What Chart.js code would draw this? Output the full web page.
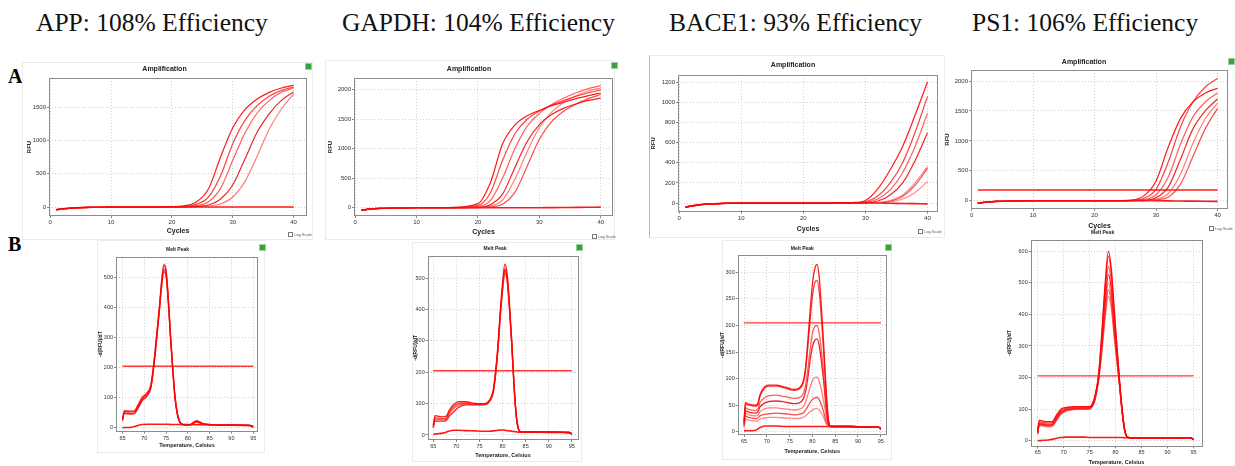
<!DOCTYPE html>
<html><head><meta charset="utf-8">
<script src="https://cdn.jsdelivr.net/npm/chart.js@4.4.1/dist/chart.umd.min.js"></script>
<style>
html,body{margin:0;padding:0;background:#fff;}
#page{position:relative;width:1235px;height:466px;overflow:hidden;background:#fff;font-family:"Liberation Sans",Arial,sans-serif;}
.ttl{position:absolute;top:10px;font-family:"Liberation Serif",serif;font-size:25.5px;line-height:25.5px;color:#111;white-space:nowrap;}
.lbl{position:absolute;font-family:"Liberation Serif",serif;font-weight:bold;font-size:20px;line-height:20px;color:#000;}
.frame{position:absolute;border:1px solid #ebebeb;box-sizing:border-box;}
canvas{position:absolute;}
.icon{position:absolute;width:5px;height:5px;background:#3f9f3f;border:1px solid #9ad09a;}
.log{position:absolute;font-size:4px;line-height:5px;color:#555;white-space:nowrap;}
.log i{display:inline-block;width:3px;height:3px;border:1px solid #777;margin-right:1px;vertical-align:middle;}
</style></head>
<body><div id="page">
<div class="ttl" style="left:36px">APP: 108% Efficiency</div>
<div class="ttl" style="left:342px">GAPDH: 104% Efficiency</div>
<div class="ttl" style="left:669px">BACE1: 93% Efficiency</div>
<div class="ttl" style="left:972px">PS1: 106% Efficiency</div>
<div class="lbl" style="left:8px;top:66px">A</div>
<div class="lbl" style="left:8px;top:234px">B</div>
<div class="frame" style="left:22px;top:62px;width:291px;height:178px"></div>
<div class="frame" style="left:325px;top:60px;width:290px;height:180px"></div>
<div class="frame" style="left:649px;top:55px;width:296px;height:183px;border-left-color:#bbb"></div>
<div class="frame" style="left:97px;top:240px;width:168px;height:213px"></div>
<div class="frame" style="left:412px;top:242px;width:170px;height:220px"></div>
<div class="frame" style="left:722px;top:240px;width:170px;height:220px"></div>
<div class="icon" style="left:305px;top:63px"></div>
<div class="icon" style="left:611px;top:62px"></div>
<div class="icon" style="left:1228px;top:58px"></div>
<div class="icon" style="left:259px;top:244px"></div>
<div class="icon" style="left:576px;top:244px"></div>
<div class="icon" style="left:885px;top:244px"></div>
<div class="log" style="left:288px;top:232px"><i></i>Log Scale</div>
<div class="log" style="left:592px;top:234px"><i></i>Log Scale</div>
<div class="log" style="left:918px;top:229px"><i></i>Log Scale</div>
<div class="log" style="left:1209px;top:226px"><i></i>Log Scale</div>
</div>
<script>
// ---------- Amplification data ----------
const ampCycles = [1,2,4,7,10,15,20,22,24,26,28,30,32,34,36,38,40];
const ampXTicks = [0,10,20,30,40];

const appAmp1 = [-40,-28,-12,-4,0,0,4,18,75,270,750,1190,1460,1620,1720,1785,1825];
const appAmp2 = [-42,-30,-13,-4,0,0,2,10,40,150,470,950,1300,1520,1660,1750,1800];
const appAmp3 = [-38,-27,-12,-4,0,0,1,5,20,80,280,700,1110,1410,1600,1720,1785];
const appAmp4 = [-40,-28,-12,-4,0,0,0,2,10,30,120,330,720,1120,1400,1600,1725];
const appAmp5 = [-44,-30,-14,-5,0,0,0,1,5,15,45,150,380,760,1170,1470,1695];
const appAmpNtc = [-40,-28,-12,-4,0,0,0,0,0,0,0,0,0,0,0,0,0];
const appAmpYTicks = [0,500,1000,1500];

const gapdhAmp1 = [-40,-28,-12,-4,0,2,70,420,1080,1400,1560,1650,1730,1790,1850,1900,1945];
const gapdhAmp2 = [-42,-29,-12,-4,0,1,40,250,800,1250,1500,1640,1740,1820,1890,1950,2000];
const gapdhAmp3 = [-38,-27,-11,-4,0,0,20,120,500,1000,1380,1600,1750,1860,1950,2020,2070];
const gapdhAmp4 = [-40,-28,-12,-4,0,0,10,50,230,680,1120,1410,1580,1690,1760,1820,1860];
const gapdhAmp5 = [-41,-29,-12,-4,0,0,5,30,130,480,950,1360,1620,1790,1900,1980,2030];
const gapdhAmp6 = [-40,-28,-12,-4,0,0,2,15,60,260,700,1160,1460,1640,1760,1850,1920];
const gapdhAmpNtc = [-40,-28,-12,-4,0,0,0,0,0,0,0,0,2,4,6,8,10];
const gapdhAmpYTicks = [0,500,1000,1500,2000];

const baceAmp1 = [-45,-30,-14,-5,0,0,0,0,0,2,5,25,140,330,560,870,1200];
const baceAmp2 = [-42,-29,-12,-4,0,0,0,0,0,1,2,12,70,200,400,700,1055];
const baceAmp3 = [-40,-28,-12,-4,0,0,0,0,0,0,1,6,40,130,300,560,889];
const baceAmp4 = [-44,-30,-13,-4,0,0,0,0,0,0,0,3,20,80,200,420,698];
const baceAmp5 = [-40,-28,-12,-4,0,0,0,0,0,0,0,0,5,25,80,200,360];
const baceAmp6 = [-38,-27,-11,-4,0,0,0,0,0,0,0,0,3,18,65,175,344];
const baceAmp7 = [-40,-28,-12,-4,0,0,0,0,0,0,0,0,2,10,40,105,212];
const baceAmpNtc = [-40,-28,-12,-4,0,0,0,0,0,0,0,0,0,-2,-4,-6,-8];
const baceAmpYTicks = [0,200,400,600,800,1000,1200];

const ps1Amp1 = [-45,-30,-13,-4,0,0,0,0,2,10,80,330,900,1380,1650,1800,1880];
const ps1Amp2 = [-42,-29,-12,-4,0,0,0,0,1,5,40,190,650,1240,1650,1900,2045];
const ps1Amp3 = [-40,-28,-12,-4,0,0,0,0,0,3,20,100,400,950,1400,1650,1800];
const ps1Amp4 = [-40,-28,-12,-4,0,0,0,0,0,2,8,50,230,700,1200,1500,1700];
const ps1Amp5 = [-44,-30,-13,-4,0,0,0,0,0,1,4,25,120,450,960,1370,1630];
const ps1Amp6 = [-40,-28,-12,-4,0,0,0,0,0,0,2,12,60,280,740,1200,1543];
const ps1AmpNtc = [-40,-28,-12,-4,0,0,0,0,0,0,0,-2,-4,-6,-8,-10,-12];
const ps1Threshold = 180;
const ps1AmpYTicks = [0,500,1000,1500,2000];

// ---------- Melt peak data ----------
const meltXTicks = [65,70,75,80,85,90,95];
const meltThreshold = 205;

const appTemps = [65,65.4,66,67,67.8,68.5,69.5,70.5,71.5,72,72.5,73,73.5,74,74.5,75,75.5,76,76.5,77,77.5,78,79,80.5,82,83.5,86,90,94,95];
const appMelt1 = [25,55,54,53,55,72,98,112,140,190,255,330,405,490,540,520,430,310,205,110,55,25,10,10,20,12,10,9,8,3];
const appMelt2 = [28,50,49,48,50,66,92,106,135,185,250,325,400,480,528,512,425,305,200,108,52,24,10,10,22,13,10,9,8,3];
const appMelt3 = [22,58,57,56,58,76,102,116,144,195,262,336,412,495,545,526,436,315,208,112,56,26,11,10,18,12,10,9,8,4];
const appMelt4 = [30,48,47,46,48,64,90,104,132,180,245,320,395,475,520,505,420,300,198,105,50,23,10,11,24,14,10,9,8,3];
const appMeltNtc = [0,1,1,2,4,8,11,12,12,12,12,12,12,12,12,12,12,11,11,11,11,11,11,10,10,10,9,9,8,6];
const appMeltYTicks = [0,100,200,300,400,500];

const gapdhTemps = [65,65.4,66,67,67.8,68.5,69.5,70.5,72,74,76,77,78,78.5,79,79.5,80,80.5,81,81.5,82,82.5,83,83.5,84,88,92,94.5,95];
const gapdhMelt1 = [30,62,60,58,60,80,98,106,106,101,100,108,145,205,285,395,485,545,515,420,300,160,60,18,10,10,9,8,3];
const gapdhMelt2 = [28,55,54,52,54,74,92,100,102,98,97,105,140,198,278,385,470,530,500,410,292,155,58,17,10,10,9,8,3];
const gapdhMelt3 = [25,50,49,48,50,68,85,95,98,96,96,103,136,192,270,375,458,515,490,400,285,150,55,16,10,10,9,8,3];
const gapdhMelt4 = [22,45,44,44,46,60,75,88,96,97,98,104,138,195,272,380,465,525,495,405,288,152,56,16,10,10,9,8,3];
const gapdhMeltNtc = [2,3,4,6,9,13,15,15,14,13,12,12,13,14,15,16,16,15,14,13,12,11,10,9,9,9,8,7,5];
const gapdhMeltYTicks = [0,100,200,300,400,500];

const baceTemps = [65,65.3,66,67.5,68,68.5,69.5,70.5,72,74,76,77,78,78.5,79,79.5,80,80.5,81,81.5,82,82.5,83,83.5,84,88,92,94.5,95];
const baceMelt1 = [20,55,52,50,53,70,85,88,88,84,80,82,96,122,172,228,278,306,315,290,230,160,80,25,10,10,9,9,5];
const baceMelt2 = [18,52,50,48,50,67,82,86,86,82,78,80,92,115,160,210,255,280,285,262,210,145,72,22,10,10,9,9,5];
const baceMelt3 = [15,45,42,40,42,55,64,68,69,66,63,64,72,88,118,155,185,198,200,185,150,105,52,18,10,10,9,9,5];
const baceMelt4 = [14,40,37,35,37,47,54,57,58,56,53,54,62,76,102,135,160,172,175,162,130,92,46,16,10,10,9,9,5];
const baceMelt5 = [12,35,32,30,31,38,43,45,45,43,41,42,47,56,70,84,96,102,103,95,78,56,30,13,10,10,9,9,5];
const baceMelt6 = [10,30,27,25,26,30,33,34,35,34,32,33,36,41,48,55,61,64,65,60,50,36,20,12,10,10,9,9,5];
const baceMelt7 = [8,24,22,20,21,24,26,27,27,26,25,25,27,30,34,38,41,43,44,41,35,26,16,11,10,10,9,9,5];
const baceMeltNtc = [1,2,2,3,5,8,11,11,11,10,10,10,10,10,10,10,10,10,10,10,10,10,10,10,10,10,9,9,7];
const baceMeltYTicks = [0,50,100,150,200,250,300];

const ps1Temps = [65,65.3,66,67,67.8,68.5,69.5,70.5,72,74,75,75.5,76,76.7,77.3,78,78.6,79.2,79.8,80.7,81.2,81.7,82.2,83,86,90,94.5,95];
const ps1Melt1 = [30,65,62,60,60,78,100,105,108,108,108,116,140,205,330,500,600,540,400,205,110,40,12,8,8,8,9,3];
const ps1Melt2 = [28,60,58,56,56,74,97,103,106,106,106,114,137,202,322,487,584,526,390,200,108,40,12,8,8,8,9,3];
const ps1Melt3 = [26,56,54,52,53,70,93,100,104,104,105,112,134,198,308,462,552,498,370,195,105,38,12,8,8,8,9,3];
const ps1Melt4 = [25,54,52,50,51,68,90,98,102,103,104,111,132,195,298,442,526,476,355,192,104,38,12,8,8,8,9,3];
const ps1Melt5 = [24,52,50,48,49,66,88,96,100,101,102,110,130,192,288,422,500,452,340,188,102,37,12,8,8,8,9,3];
const ps1Melt6 = [22,50,48,46,47,63,86,95,99,100,101,109,128,190,280,405,479,434,328,185,100,36,12,8,8,8,9,3];
const ps1Melt7 = [20,48,46,44,45,60,84,94,98,99,100,108,126,188,272,388,457,415,315,182,98,35,12,8,8,8,9,3];
const ps1MeltNtc = [0,0,1,2,4,7,10,11,11,11,10,10,10,10,10,10,10,10,10,10,10,9,9,8,8,8,8,5];
const ps1MeltYTicks = [0,100,200,300,400,500,600];

// ---------- helpers ----------
const FF = '"Liberation Sans", Arial, sans-serif';
const REDS = ['rgba(255,0,0,0.9)','rgba(245,20,20,0.8)','rgba(255,40,40,0.75)','rgba(235,0,0,0.85)','rgba(255,70,70,0.7)','rgba(250,30,30,0.8)','rgba(255,90,90,0.7)'];
function line(xs, ys, color, width, smooth) {
  return {data: xs.map((x,i)=>({x:x, y:ys[i]})), borderColor: color, borderWidth: width,
    pointRadius: 0, fill: false, cubicInterpolationMode: smooth===false ? 'default' : 'monotone'};
}
function curves(xs, list, ntc, w) {
  const out = list.map((ys,i)=>line(xs, ys, REDS[i % REDS.length], w));
  if (ntc) out.push(line(xs, ntc, 'rgba(255,0,0,0.9)', 1.6));
  return out;
}
const framePlugin = {
  id: 'plotFrame',
  afterDraw(chart) {
    const a = chart.chartArea, ctx = chart.ctx;
    ctx.save();
    ctx.strokeStyle = '#8c8c8c'; ctx.lineWidth = 1;
    ctx.strokeRect(Math.round(a.left)+0.5, Math.round(a.top)+0.5, Math.round(a.right-a.left)-1, Math.round(a.bottom-a.top)-1);
    ctx.restore();
  }
};
const page = document.getElementById('page');
function build(g) {
  const c = document.createElement('canvas');
  c.width = g.w; c.height = g.h;
  c.style.left = g.left+'px'; c.style.top = g.top+'px';
  c.style.width = g.w+'px'; c.style.height = g.h+'px';
  page.appendChild(c);
  const lhT = g.titleSize*1.2, yLH = g.yTitleSize*1.2, xLH = g.xTitleSize*1.2;
  const relT = g.plot.t - g.top;
  const padTop = Math.max(0, (g.titleY - g.top) - lhT/2);
  const padBot = Math.max(0, relT - lhT - padTop);
  const tickFont = {family: FF, size: g.tickSize};
  new Chart(c, {
    type: 'line',
    data: {datasets: g.datasets},
    options: {
      responsive: false, animation: false, devicePixelRatio: 1,
      layout: {padding: {left: 0, top: 0, right: (g.left+g.w) - g.plot.r, bottom: 0}},
      plugins: {
        legend: {display: false}, tooltip: {enabled: false},
        title: {display: true, text: g.title, color: '#222', font: {family: FF, size: g.titleSize, weight: 'bold'}, padding: {top: padTop, bottom: padBot}}
      },
      scales: {
        x: {
          type: 'linear', min: g.xMin, max: g.xMax,
          afterBuildTicks: s => { s.ticks = g.xTicks.map(v => ({value: v})); },
          afterFit: s => { s.height = (g.top+g.h) - g.plot.b; },
          ticks: {font: tickFont, color: '#333', padding: 1, maxRotation: 0, autoSkip: false, callback: v => String(v)},
          grid: {color: '#cfcfcf', tickLength: 2, tickColor: '#888'},
          border: {display: false, dash: [1,2]},
          title: {display: true, text: g.xTitle, color: '#222', font: {family: FF, size: g.xTitleSize, weight: 'bold'},
                  padding: {top: 0, bottom: Math.max(0, (g.top+g.h) - g.xTitleY - xLH/2)}}
        },
        y: {
          type: 'linear', min: g.yMin, max: g.yMax,
          afterBuildTicks: s => { s.ticks = g.yTicks.map(v => ({value: v})); },
          afterFit: s => { s.width = g.plot.l - g.left; },
          ticks: {font: tickFont, color: '#333', padding: 1, autoSkip: false, callback: v => String(v)},
          grid: {color: '#cfcfcf', tickLength: 2, tickColor: '#888'},
          border: {display: false, dash: [1,2]},
          title: {display: true, text: g.yTitle, color: '#222', font: {family: FF, size: g.yTitleSize, weight: 'bold'},
                  padding: {top: Math.max(0, (g.yTitleX - g.left) - yLH/2), bottom: 0}}
        }
      }
    },
    plugins: [framePlugin]
  });
}

// ---------- Amplification charts ----------
build({left:22, top:62, w:291, h:178, plot:{l:49, r:307, t:78, b:216},
  title:'Amplification', titleSize:7, titleY:69, xTitle:'Cycles', xTitleSize:7, xTitleY:231,
  yTitle:'RFU', yTitleSize:6, yTitleX:29.5, tickSize:6,
  xMin:-0.2, xMax:42.2, yMin:-135, yMax:1935, xTicks:ampXTicks, yTicks:appAmpYTicks,
  datasets: curves(ampCycles, [appAmp1,appAmp2,appAmp3,appAmp4,appAmp5], appAmpNtc, 1.2)});

build({left:325, top:60, w:290, h:180, plot:{l:354, r:613, t:78, b:216},
  title:'Amplification', titleSize:7, titleY:69, xTitle:'Cycles', xTitleSize:7, xTitleY:232.5,
  yTitle:'RFU', yTitleSize:6, yTitleX:330, tickSize:6,
  xMin:-0.2, xMax:42, yMin:-140, yMax:2200, xTicks:ampXTicks, yTicks:gapdhAmpYTicks,
  datasets: curves(ampCycles, [gapdhAmp1,gapdhAmp2,gapdhAmp3,gapdhAmp4,gapdhAmp5,gapdhAmp6], gapdhAmpNtc, 1.2)});

build({left:648, top:55, w:297, h:183, plot:{l:678, r:938, t:75, b:211.7},
  title:'Amplification', titleSize:7, titleY:65, xTitle:'Cycles', xTitleSize:7, xTitleY:229.3,
  yTitle:'RFU', yTitleSize:6, yTitleX:653.5, tickSize:6,
  xMin:-0.2, xMax:41.7, yMin:-86, yMax:1270, xTicks:ampXTicks, yTicks:baceAmpYTicks,
  datasets: curves(ampCycles, [baceAmp1,baceAmp2,baceAmp3,baceAmp4,baceAmp5,baceAmp6,baceAmp7], baceAmpNtc, 1.2)});

build({left:940, top:55, w:295, h:180, plot:{l:971, r:1228, t:70, b:209},
  title:'Amplification', titleSize:7, titleY:61.7, xTitle:'Cycles', xTitleSize:7, xTitleY:225.7,
  yTitle:'RFU', yTitleSize:6, yTitleX:947.5, tickSize:6,
  xMin:-0.1, xMax:41.7, yMin:-139, yMax:2184, xTicks:ampXTicks, yTicks:ps1AmpYTicks,
  datasets: curves(ampCycles, [ps1Amp1,ps1Amp2,ps1Amp3,ps1Amp4,ps1Amp5,ps1Amp6], ps1AmpNtc, 1.2)
    .concat([line([1,40],[ps1Threshold,ps1Threshold],'rgba(255,0,0,0.9)',1.5,false)])});

// ---------- Melt peak charts ----------
build({left:97, top:240, w:168, h:213, plot:{l:116, r:258, t:256.7, b:431.7},
  title:'Melt Peak', titleSize:5, titleY:250, xTitle:'Temperature, Celsius', xTitleSize:5.5, xTitleY:445.7,
  yTitle:'-d(RFU)/dT', yTitleSize:5, yTitleX:101, tickSize:5.5,
  xMin:63.5, xMax:96.1, yMin:-13, yMax:570, xTicks:meltXTicks, yTicks:appMeltYTicks,
  datasets: curves(appTemps, [appMelt1,appMelt2,appMelt3,appMelt4], appMeltNtc, 1.3)
    .concat([line([65,95],[meltThreshold,meltThreshold],'rgba(255,20,20,0.85)',1.3,false)])});

build({left:412, top:242, w:170, h:220, plot:{l:427.7, r:578.3, t:255.7, b:440},
  title:'Melt Peak', titleSize:5, titleY:249, xTitle:'Temperature, Celsius', xTitleSize:5.5, xTitleY:455,
  yTitle:'-d(RFU)/dT', yTitleSize:5, yTitleX:415.5, tickSize:5.5,
  xMin:63.8, xMax:96.4, yMin:-16, yMax:572, xTicks:meltXTicks, yTicks:gapdhMeltYTicks,
  datasets: curves(gapdhTemps, [gapdhMelt1,gapdhMelt2,gapdhMelt3,gapdhMelt4], gapdhMeltNtc, 1.3)
    .concat([line([65,95],[meltThreshold,meltThreshold],'rgba(255,20,20,0.85)',1.3,false)])});

build({left:718, top:240, w:174, h:220, plot:{l:737.7, r:886.7, t:255, b:435},
  title:'Melt Peak', titleSize:5, titleY:249, xTitle:'Temperature, Celsius', xTitleSize:5.5, xTitleY:451,
  yTitle:'-d(RFU)/dT', yTitleSize:5, yTitleX:722.5, tickSize:5.5,
  xMin:63.6, xMax:96.3, yMin:-6, yMax:332.6, xTicks:meltXTicks, yTicks:baceMeltYTicks,
  datasets: curves(baceTemps, [baceMelt1,baceMelt2,baceMelt3,baceMelt4,baceMelt5,baceMelt6,baceMelt7], baceMeltNtc, 1.3)
    .concat([line([65,95],[meltThreshold,meltThreshold],'rgba(255,20,20,0.85)',1.3,false)])});

build({left:1003, top:226, w:205, h:240, plot:{l:1030.7, r:1202.3, t:239.7, b:446.3},
  title:'Melt Peak', titleSize:5, titleY:233, xTitle:'Temperature, Celsius', xTitleSize:5.5, xTitleY:464,
  yTitle:'-d(RFU)/dT', yTitleSize:5, yTitleX:1010, tickSize:5.5,
  xMin:63.65, xMax:96.7, yMin:-18, yMax:637, xTicks:meltXTicks, yTicks:ps1MeltYTicks,
  datasets: curves(ps1Temps, [ps1Melt1,ps1Melt2,ps1Melt3,ps1Melt4,ps1Melt5,ps1Melt6,ps1Melt7], ps1MeltNtc, 1.3)
    .concat([line([65,95],[meltThreshold,meltThreshold],'rgba(255,20,20,0.85)',1.3,false)])});
</script>
</body></html>
